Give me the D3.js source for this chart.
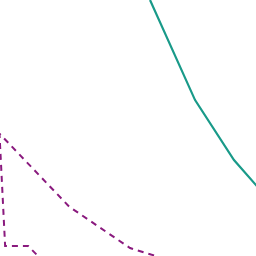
<!DOCTYPE html>
<html><head><meta charset="utf-8">
<script src="https://cdn.jsdelivr.net/npm/d3@7"></script>
<style>html,body{margin:0;padding:0;background:#fff;}svg{display:block;}</style>
</head><body>
<script>
// Series A (teal, solid)
const tealX = [58.6, 76.2, 91.4, 100, 102.5];
const tealY = [100, 60.9, 37.5, 27.7, 24.8];
// Series B (purple, dashed)
const purpleX = [68.4, 50.8, 27.0, -0.2, 2.0, 11.0, 15.6];
const purpleY = [-2.3, 3.1, 19.3, 47.8, 3.9, 3.9, -0.8];

const W = 256, H = 256;
const x = d3.scaleLinear().domain([0, 100]).range([0, W]);
const y = d3.scaleLinear().domain([0, 100]).range([H, 0]);

const svg = d3.select("body").append("svg").attr("width", W).attr("height", H);
const line = d3.line().x(d => x(d[0])).y(d => y(d[1]));

svg.append("path")
  .datum(d3.zip(tealX, tealY))
  .attr("d", line).attr("fill", "none")
  .attr("stroke", "#199a89").attr("stroke-width", 2.2);

svg.append("path")
  .datum(d3.zip(purpleX, purpleY))
  .attr("d", line).attr("fill", "none")
  .attr("stroke", "#8a1a7e").attr("stroke-width", 2)
  .attr("stroke-dasharray", "6,5");
</script>
</body></html>
